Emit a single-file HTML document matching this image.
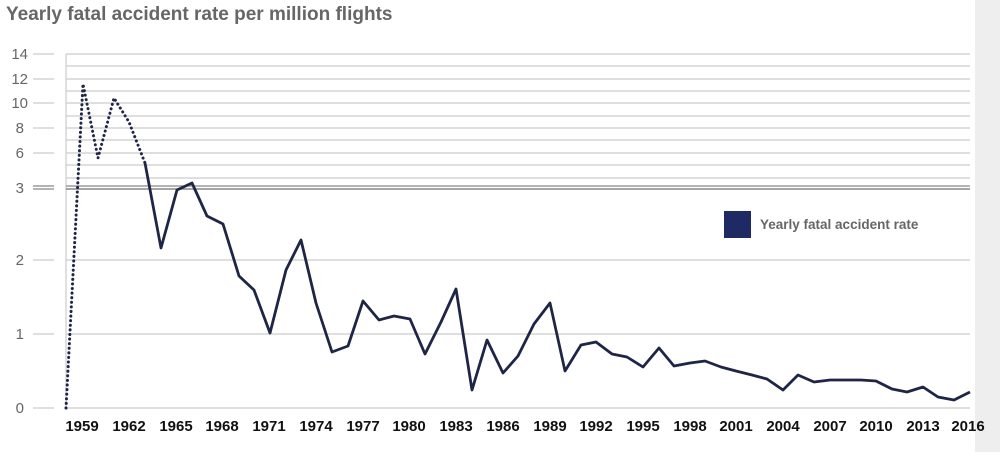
<!DOCTYPE html>
<html><head><style>
body{margin:0;width:1000px;height:452px;background:#fff;overflow:hidden;font-family:"Liberation Sans",Arial,sans-serif}
</style></head><body>
<svg width="1000" height="452" xmlns="http://www.w3.org/2000/svg" font-family="Liberation Sans, Arial, sans-serif">
<rect x="975" y="0" width="25" height="452" fill="#eeeeee"/>
<text x="6" y="20" font-size="19" font-weight="bold" fill="#666">Yearly fatal accident rate per million flights</text>
<g stroke="#ccc" stroke-width="1.2">
<line x1="66" x2="970" y1="54" y2="54"/><line x1="66" x2="970" y1="66" y2="66"/>
<line x1="66" x2="970" y1="79" y2="79"/><line x1="66" x2="970" y1="91" y2="91"/>
<line x1="66" x2="970" y1="103" y2="103"/><line x1="66" x2="970" y1="116" y2="116"/>
<line x1="66" x2="970" y1="128" y2="128"/><line x1="66" x2="970" y1="140" y2="140"/>
<line x1="66" x2="970" y1="153" y2="153"/><line x1="66" x2="970" y1="165" y2="165"/>
<line x1="66" x2="970" y1="178" y2="178"/>
<line x1="66" x2="970" y1="260" y2="260"/><line x1="66" x2="970" y1="334" y2="334"/>
<line x1="66" x2="970" y1="408" y2="408"/>
<line x1="66" x2="66" y1="54" y2="408"/>
<line x1="33" x2="54" y1="54" y2="54"/><line x1="33" x2="54" y1="79" y2="79"/>
<line x1="33" x2="54" y1="103" y2="103"/><line x1="33" x2="54" y1="128" y2="128"/>
<line x1="33" x2="54" y1="153" y2="153"/><line x1="33" x2="54" y1="260" y2="260"/>
<line x1="33" x2="54" y1="334" y2="334"/><line x1="33" x2="54" y1="408" y2="408"/>
</g>
<line x1="33" x2="54" y1="186" y2="186" stroke="#888" stroke-width="1.2"/>
<line x1="33" x2="54" y1="189" y2="189" stroke="#888" stroke-width="1.2"/>
<line x1="66" x2="970" y1="186" y2="186" stroke="#888" stroke-width="1.2"/>
<line x1="66" x2="970" y1="189" y2="189" stroke="#888" stroke-width="1.5"/>
<g font-size="15" fill="#666" text-anchor="end">
<text x="28" y="59">14</text><text x="28" y="84">12</text><text x="28" y="108">10</text>
<text x="24" y="133">8</text><text x="24" y="158">6</text><text x="24" y="193">3</text>
<text x="24" y="265">2</text><text x="24" y="339">1</text><text x="24" y="413">0</text>
</g>
<g font-size="15" font-weight="bold" fill="#111" text-anchor="middle">
<text x="82" y="431">1959</text><text x="129" y="431">1962</text><text x="176" y="431">1965</text><text x="222" y="431">1968</text><text x="269" y="431">1971</text><text x="316" y="431">1974</text><text x="363" y="431">1977</text><text x="409" y="431">1980</text><text x="456" y="431">1983</text><text x="503" y="431">1986</text><text x="550" y="431">1989</text><text x="596" y="431">1992</text><text x="643" y="431">1995</text><text x="690" y="431">1998</text><text x="736" y="431">2001</text><text x="783" y="431">2004</text><text x="830" y="431">2007</text><text x="876" y="431">2010</text><text x="923" y="431">2013</text><text x="968" y="431">2016</text>
</g>
<polyline fill="none" stroke="#1f2547" stroke-width="3" stroke-dasharray="0.1 4.5" stroke-linecap="round" points="66,408 83,84 98,158 114,98 129,122 145,163"/>
<polyline fill="none" stroke="#1f2547" stroke-width="2.8" stroke-linejoin="round" points="145,163 161,248 177,190 192,183 207,216 223,224 239,276 254,290 270,333 286,270 301,240 316,303 332,352 348,346 363,301 379,320 394,316 410,319 425,354 441,322 456,289 472,390 487,340 503,373 518,356 534,324 550,303 565,371 581,345 596,342 612,354 627,357 643,367 659,348 674,366 690,363 705,361 721,367 736,371 752,375 767,379 783,390 798,375 814,382 830,380 845,380 861,380 876,381 892,389 907,392 923,387 938,397 954,400 970,392"/>
<rect x="724" y="211" width="27" height="27" fill="#1e2a63"/>
<text x="760" y="229" font-size="13.5" font-weight="bold" fill="#666">Yearly fatal accident rate</text>
</svg>
</body></html>
